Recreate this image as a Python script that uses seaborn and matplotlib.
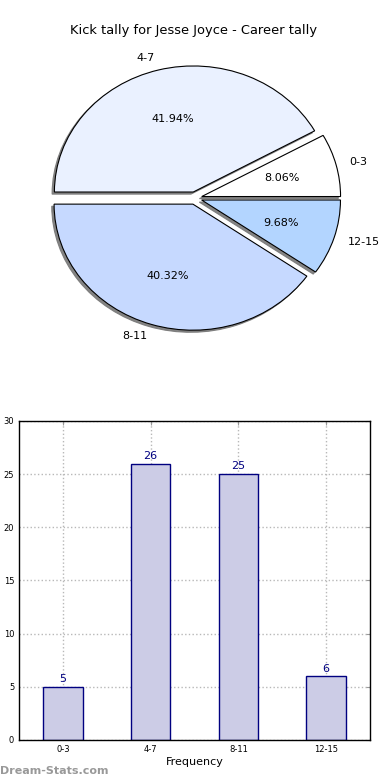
import numpy as np
import pandas as pd
import matplotlib
matplotlib.use("Agg")
import matplotlib.pyplot as plt
import seaborn as sns

# data
ranges = ["0-3", "4-7", "8-11", "12-15"]
counts = [5, 26, 25, 6]
pie_colors = ["#ffffff", "#eaf1ff", "#c6d9ff", "#b3d5ff"]

sns.set_style("white")
plt.rcParams['font.family'] = ['DejaVu Sans']
plt.rcParams['text.color'] = 'black'
plt.rcParams['axes.labelcolor'] = 'black'
plt.rcParams['xtick.color'] = 'black'
plt.rcParams['ytick.color'] = 'black'

fig = plt.figure(figsize=(3.9, 7.8), dpi=100)

# pie chart
ax1 = fig.add_axes([0.055, 0.544, 0.89, 0.404])
wedges, texts, autotexts = ax1.pie(counts, labels=ranges, colors=pie_colors,
                                   explode=[0.05] * 4,
                                   shadow=dict(ox=-0.012, oy=-0.012, facecolor="#777777",
                                               edgecolor="#777777", alpha=0.9),
                                   autopct="%.2f%%",
                                   wedgeprops=dict(edgecolor="black", linewidth=0.8),
                                   textprops=dict(fontsize=8, color="black"))
ax1.set_aspect("auto")
ax1.set_xlim(-1.25, 1.25)
ax1.set_ylim(-1.25, 1.25)
fig.text(0.497, 0.961, "Kick tally for Jesse Joyce - Career tally", ha="center", va="center", fontsize=9.4)

# bar chart
df = pd.DataFrame({"range": ranges, "count": counts})
ax2 = fig.add_axes([0.0487, 0.0513, 0.9, 0.409])
sns.barplot(data=df, x="range", y="count", ax=ax2, color="#ccccE6", saturation=1,
            edgecolor="navy", linewidth=1, width=0.45, zorder=2)
ax2.set_xlim(-0.5, 3.5)
ax2.set_ylim(0, 30)
ax2.set_yticks(range(0, 31, 5))
ax2.grid(True, linestyle=":", color="#b8b8b8", linewidth=1, zorder=0)
ax2.set_axisbelow(True)
for s in ax2.spines.values():
    s.set_color("black")
    s.set_linewidth(1)
ax2.tick_params(axis="both", labelsize=6, direction="in", length=3, top=True, right=True, color="#999999")
ax2.set_xlabel("Frequency", fontsize=8, labelpad=2)
ax2.set_ylabel("Kick tally", fontsize=8, color="#444444")
ax2.yaxis.set_label_coords(-0.05, 0.5)
for i, c in enumerate(counts):
    ax2.text(i, c + 0.25, str(c), ha="center", va="bottom", fontsize=8, color="navy")

fig.text(0.0, 0.012, "Dream-Stats.com", fontsize=8, color="#999999", fontweight="bold", ha="left", va="center")

fig.savefig("out.png", dpi=100)
